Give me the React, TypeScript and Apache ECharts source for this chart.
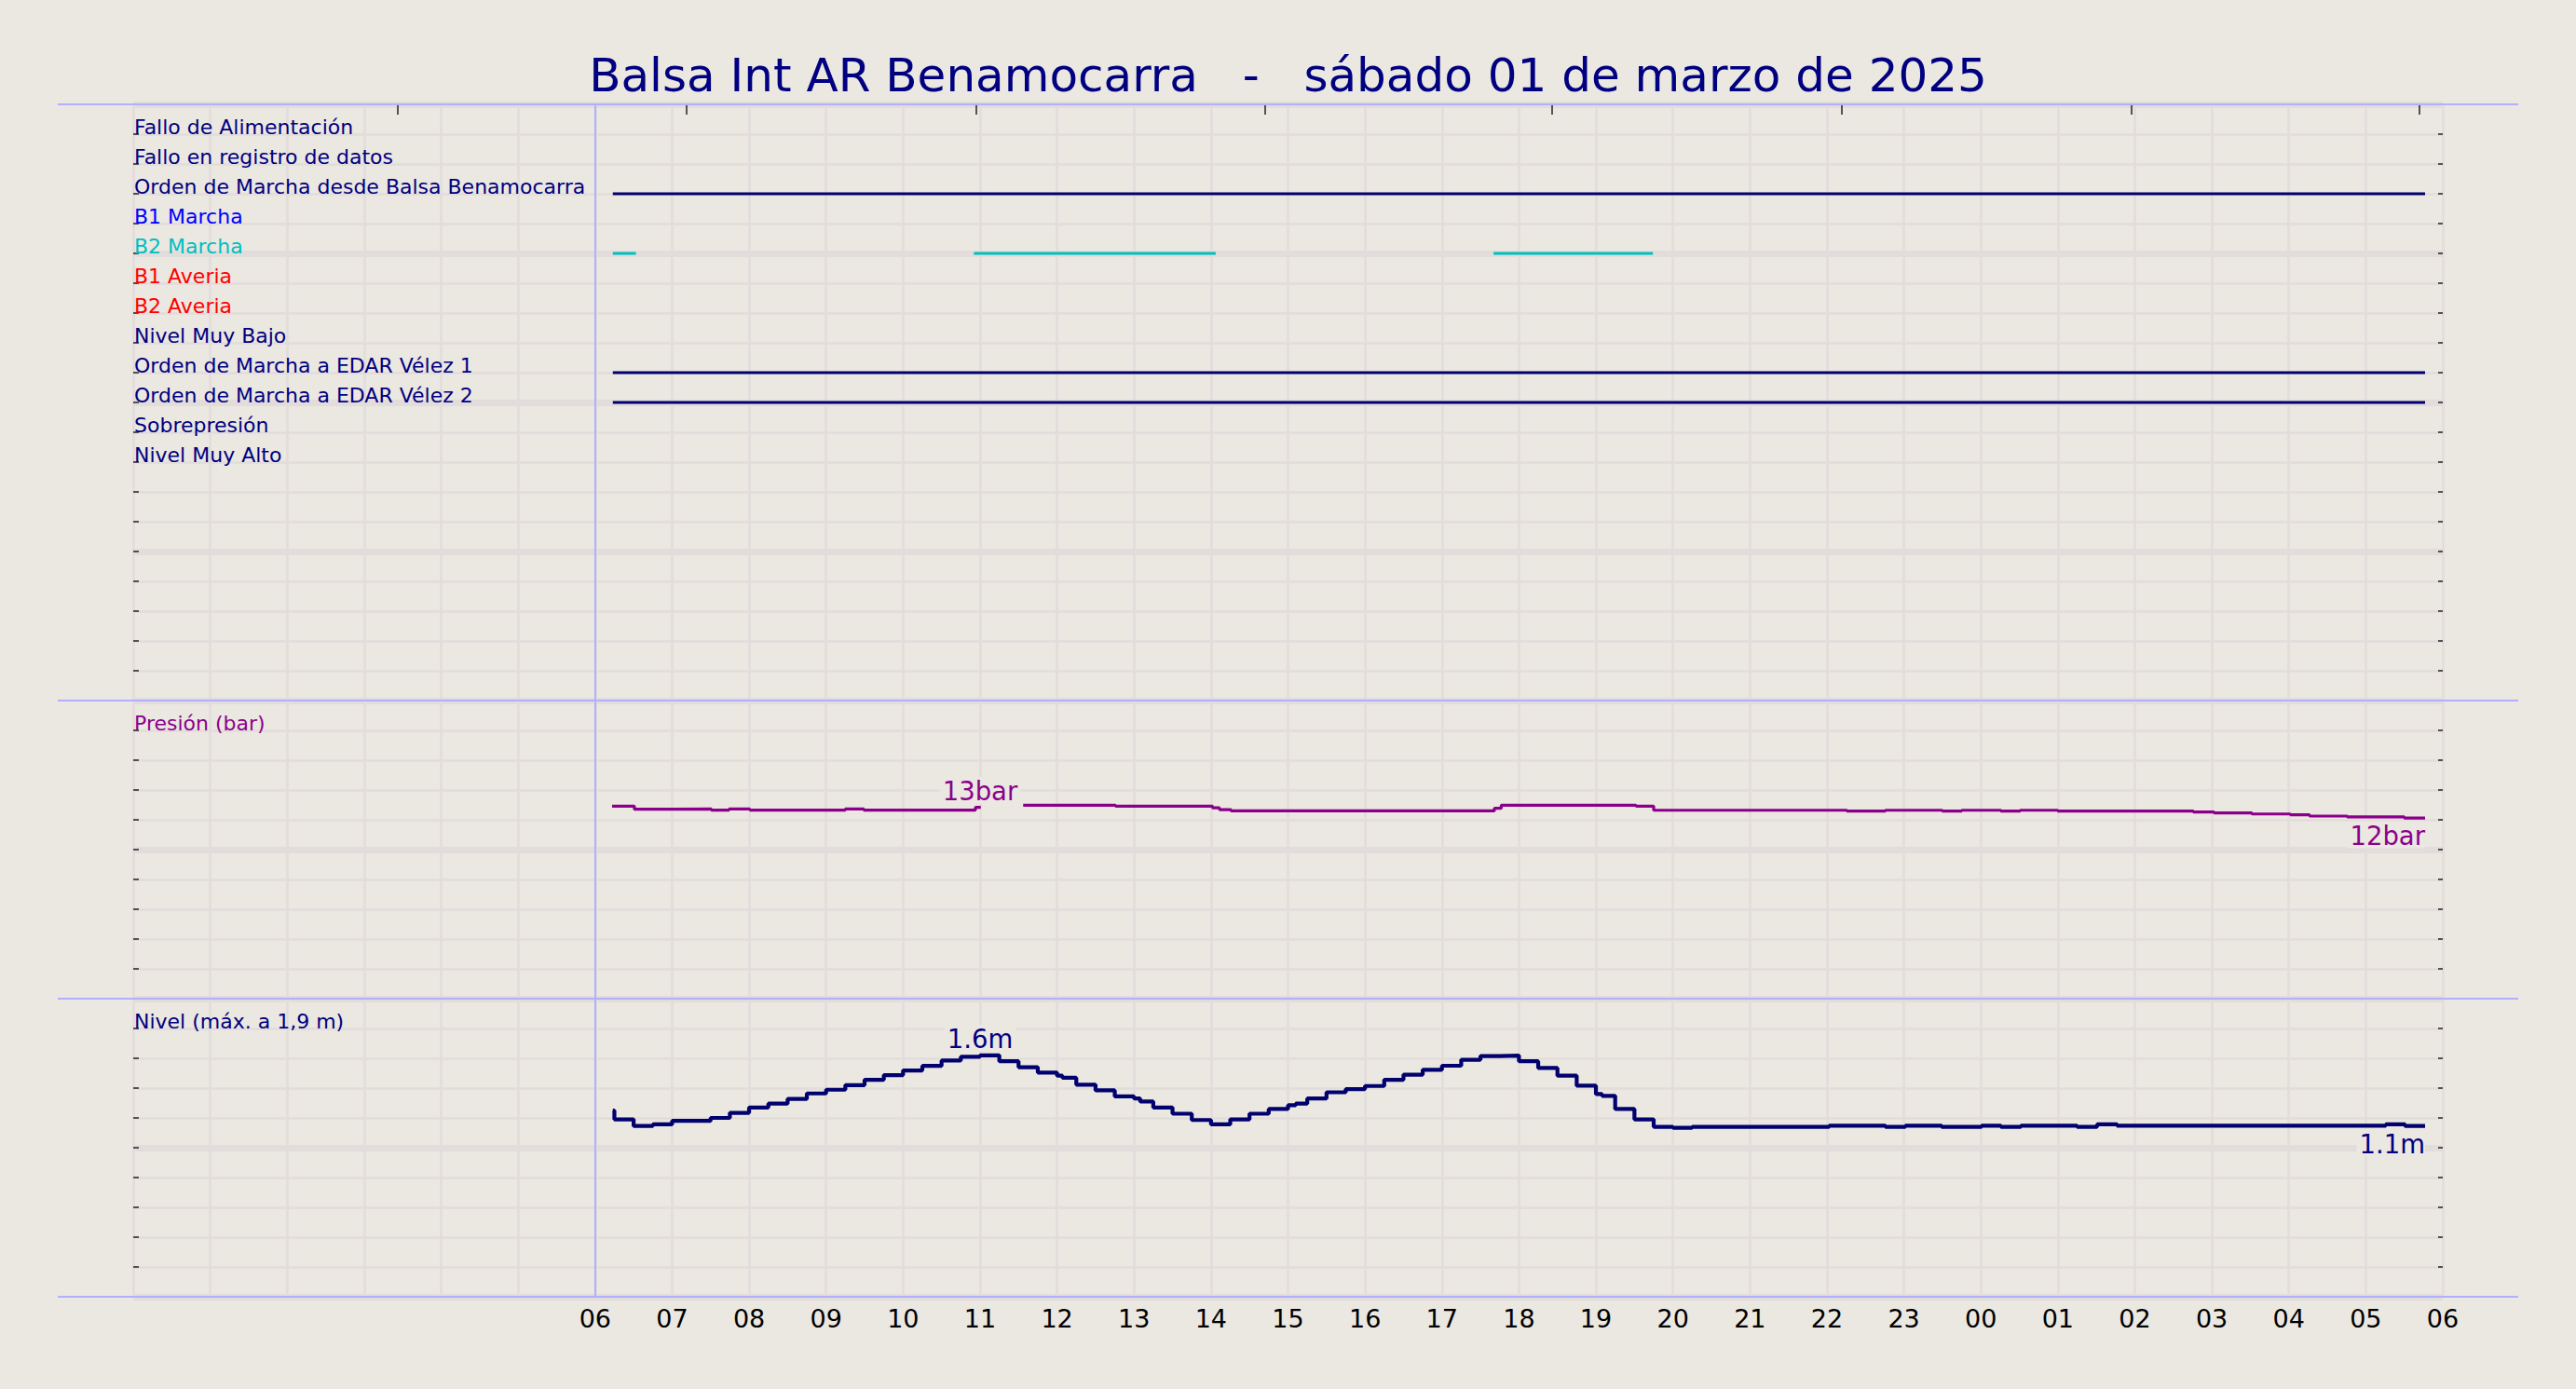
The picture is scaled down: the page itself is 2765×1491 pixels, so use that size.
import { useEffect, useRef } from 'react';
import * as echarts from 'echarts';

const TITLE = 'Balsa Int AR Benamocarra   -   sábado 01 de marzo de 2025';

// señales digitales, fila 1 arriba
const signalNames = [
  'Fallo de Alimentación',
  'Fallo en registro de datos',
  'Orden de Marcha desde Balsa Benamocarra',
  'B1 Marcha',
  'B2 Marcha',
  'B1 Averia',
  'B2 Averia',
  'Nivel Muy Bajo',
  'Orden de Marcha a EDAR Vélez 1',
  'Orden de Marcha a EDAR Vélez 2',
  'Sobrepresión',
  'Nivel Muy Alto',
];
const signalColors = [
  '#000080', '#000080', '#000080', '#0000ff', '#00bfbf', '#ff0000',
  '#ff0000', '#000080', '#000080', '#000080', '#000080', '#000080',
];

// tramos activos [hora inicio, hora fin], horas desde las 00:00
const ordenBalsaOn = [[6.23, 29.77]];
const b2MarchaOn = [[6.23, 6.53], [10.92, 14.06], [17.67, 19.74]];
const edar1On = [[6.23, 29.77]];
const edar2On = [[6.23, 29.77]];

// presión [hora, bar] (cambios de valor, null = sin dato)
const pressure: [number, number | null][] = [
  [6.22, 12.92], [6.51, 12.71], [7.01, 12.73], [7.51, 12.65], [7.74, 12.73],
  [8.01, 12.65], [9.25, 12.73], [9.49, 12.65], [10.94, 12.83], [11.01, 12.83],
  [11.01, null],
  [11.56, 12.98], [12.76, 12.92], [14.02, 12.8], [14.11, 12.68], [14.26, 12.6],
  [17.63, 12.6], [17.68, 12.77], [17.77, 12.98], [19.52, 12.92], [19.75, 12.64],
  [22.26, 12.58], [22.76, 12.64], [23.5, 12.58], [23.75, 12.64], [24.26, 12.58],
  [24.51, 12.64], [25.0, 12.58], [26.76, 12.52], [27.03, 12.46], [27.52, 12.39],
  [28.02, 12.33], [28.27, 12.25], [28.76, 12.19], [29.5, 12.12], [29.77, 12.12],
];

// nivel [hora, m]
const level: [number, number][] = [
  [6.23, 1.25], [6.25, 1.19], [6.5, 1.146], [6.75, 1.157], [7.0, 1.18],
  [7.5, 1.2], [7.75, 1.234], [8.0, 1.27], [8.25, 1.296], [8.5, 1.327],
  [8.75, 1.364], [9.0, 1.389], [9.25, 1.42], [9.5, 1.456], [9.75, 1.487],
  [10.0, 1.518], [10.25, 1.549], [10.5, 1.585], [10.75, 1.61], [11.0, 1.62],
  [11.25, 1.58], [11.5, 1.54], [11.75, 1.504], [12.0, 1.483], [12.07, 1.469],
  [12.25, 1.423], [12.5, 1.385], [12.75, 1.344], [13.0, 1.33], [13.08, 1.31],
  [13.25, 1.27], [13.5, 1.228], [13.75, 1.186], [14.0, 1.157], [14.25, 1.19],
  [14.5, 1.228], [14.75, 1.26], [15.0, 1.285], [15.1, 1.296], [15.25, 1.33],
  [15.5, 1.372], [15.75, 1.393], [16.0, 1.414], [16.25, 1.456], [16.5, 1.49],
  [16.75, 1.523], [17.0, 1.55], [17.25, 1.59], [17.5, 1.615], [17.75, 1.618],
  [18.0, 1.58], [18.25, 1.535], [18.5, 1.483], [18.75, 1.416], [19.0, 1.36],
  [19.08, 1.348], [19.25, 1.26], [19.5, 1.19], [19.75, 1.14], [20.0, 1.134],
  [20.25, 1.14], [22.03, 1.148], [22.76, 1.14], [23.02, 1.148], [23.49, 1.14],
  [24.01, 1.148], [24.26, 1.14], [24.52, 1.148], [25.25, 1.14], [25.51, 1.157],
  [25.77, 1.148], [29.26, 1.157], [29.51, 1.146], [29.77, 1.146],
];

const xLabels = [
  '06', '07', '08', '09', '10', '11', '12', '13', '14', '15', '16', '17', '18',
  '19', '20', '21', '22', '23', '00', '01', '02', '03', '04', '05', '06',
];
const topTickHours = [3.435, 7.19, 10.945, 14.7, 18.43, 22.19, 25.95, 29.7];

const BG = '#ebe7e1';
const GRID = '#e2dcdb';
const FRAME = '#b0b0ff';
const NAVY = '#000080';
const LINE_NAVY = '#00006e';
const PURPLE = '#8b008b';
const FONT = 'DejaVu Sans';

const W = 2765;
const H = 1491;
const LEFT = 143;
const PW = 2479;
const TOP = 112;
const ROW = 32;

function onOffData(spans: number[][], row: number) {
  const out: (number | null)[][] = [];
  spans.forEach(([s, e]) => {
    out.push([s, row], [e, row], [e, null]);
  });
  return out;
}

function valueAt(data: [number, number | null][], t: number) {
  let v: number | null = null;
  data.forEach(([h, y]) => {
    if (h <= t && y != null) v = y;
  });
  return v as unknown as number;
}

export default function App() {
  const ref = useRef<HTMLDivElement>(null);

  useEffect(() => {
    if (!ref.current) return;
    const chart = echarts.init(ref.current, undefined, { renderer: 'svg' });

    let maxIdx = 0;
    level.forEach((p, i) => { if (p[1] > level[maxIdx][1]) maxIdx = i; });
    const [tMax, lMax] = level[maxIdx];
    const pAtMax = valueAt(pressure, tMax);
    const lastP = pressure[pressure.length - 1] as [number, number];
    const lastL = level[level.length - 1];

    const grids = [
      { left: LEFT, width: PW, top: TOP, height: 20 * ROW },
      { left: LEFT, width: PW, top: TOP + 20 * ROW, height: 10 * ROW },
      { left: LEFT, width: PW, top: TOP + 30 * ROW, height: 10 * ROW },
    ];

    const noLine = { show: false, onZero: false };

    const xAxes: any[] = [0, 1, 2].map(i => ({
      type: 'value', gridIndex: i, min: 0, max: 30, interval: 1,
      axisLine: noLine, axisTick: { show: false },
      axisLabel: i === 2 ? {
        show: true, color: '#000', fontSize: 27, fontFamily: FONT,
        lineHeight: 27, margin: 10,
        formatter: (v: number) => (v >= 6 ? xLabels[v - 6] : ''),
      } : { show: false },
      splitLine: { show: true, lineStyle: { color: GRID, width: 2.5 } },
    }));
    xAxes.push({
      type: 'value', gridIndex: 0, position: 'top', min: 0, max: 30,
      axisLine: noLine, axisLabel: { show: false }, splitLine: { show: false },
      axisTick: { show: true, inside: true, length: 11, customValues: topTickHours,
        lineStyle: { color: '#222', width: 1.5 } },
    });

    const panels = [
      { min: 0, max: 20, step: 1, major: 5, inverse: true,
        label: (v: number) => signalNames[Math.round(v) - 1] ?? '',
        color: (v: any) => signalColors[Math.round(Number(v)) - 1] ?? NAVY },
      { min: 0, max: 20, step: 2, major: 10, inverse: false,
        label: (v: number) => (Math.abs(v - 18) < 1e-6 ? 'Presión (bar)' : ''),
        color: () => PURPLE },
      { min: 0, max: 2, step: 0.2, major: 1, inverse: false,
        label: (v: number) => (Math.abs(v - 1.8) < 1e-6 ? 'Nivel (máx. a 1,9 m)' : ''),
        color: () => NAVY },
    ];
    const yAxes: any[] = [];
    panels.forEach((p, i) => {
      const base = { type: 'value', gridIndex: i, min: p.min, max: p.max, inverse: p.inverse };
      yAxes.push({
        ...base, position: 'left', interval: p.step,
        axisLine: noLine,
        axisTick: { show: true, inside: true, length: 6, lineStyle: { color: '#222', width: 1.5 } },
        axisLabel: {
          show: true, inside: true, margin: 1, fontSize: 22, fontFamily: FONT,
          verticalAlign: 'bottom', lineHeight: 15,
          formatter: p.label, color: p.color,
          showMinLabel: true, showMaxLabel: true,
        },
        splitLine: { show: true, lineStyle: { color: GRID, width: 2.5 } },
      });
      yAxes.push({
        ...base, position: 'right', interval: p.step,
        axisLine: noLine, axisLabel: { show: false }, splitLine: { show: false },
        axisTick: { show: true, inside: true, length: 5, lineStyle: { color: '#222', width: 1.5 } },
      });
      yAxes.push({
        ...base, position: 'left', interval: p.major,
        axisLine: noLine, axisLabel: { show: false }, axisTick: { show: false },
        splitLine: { show: true, lineStyle: { color: GRID, width: 7 } },
      });
    });

    const vLine = {
      silent: true, symbol: ['none', 'none'], label: { show: false },
      lineStyle: { color: FRAME, width: 2, type: 'solid' },
      data: [{ xAxis: 6 }],
    };

    const labelBase = {
      show: true, fontSize: 27.5, fontFamily: FONT, lineHeight: 27,
      backgroundColor: BG, padding: [2, 3, 0, 3],
    };

    const binary = [
      { row: 3, spans: ordenBalsaOn },
      { row: 5, spans: b2MarchaOn },
      { row: 9, spans: edar1On },
      { row: 10, spans: edar2On },
    ];

    const series: any[] = binary.map((b, i) => {
      const c = b.row === 5 ? signalColors[4] : LINE_NAVY;
      return {
        type: 'line', xAxisIndex: 0, yAxisIndex: 0,
        data: onOffData(b.spans, b.row), showSymbol: false, connectNulls: false,
        lineStyle: { color: c, width: 3 },
        itemStyle: { color: c },
        markLine: i === 0 ? vLine : undefined,
      };
    });

    series.push({
      type: 'line', xAxisIndex: 1, yAxisIndex: 3, step: 'end',
      data: pressure, showSymbol: false, connectNulls: false,
      lineStyle: { color: PURPLE, width: 3.2 }, itemStyle: { color: PURPLE },
      markLine: vLine,
      markPoint: {
        symbol: 'circle', symbolSize: 0, silent: true,
        label: { ...labelBase, color: PURPLE },
        data: [
          { coord: [tMax, pAtMax], label: { position: 'top', distance: 4,
            formatter: () => `${Math.round(pAtMax)}bar` } },
          { coord: lastP, label: { position: 'bottom', distance: 3.5, align: 'right',
            padding: [2, 0, 0, 3], formatter: () => `${Math.round(lastP[1])}bar` } },
        ],
      },
    });

    series.push({
      type: 'line', xAxisIndex: 2, yAxisIndex: 6, step: 'end',
      data: level, showSymbol: false,
      lineStyle: { color: LINE_NAVY, width: 4.2 }, itemStyle: { color: LINE_NAVY },
      markLine: vLine,
      markPoint: {
        symbol: 'circle', symbolSize: 0, silent: true,
        label: { ...labelBase, color: NAVY },
        data: [
          { coord: [tMax, lMax], label: { position: 'top', distance: 4,
            formatter: () => `${lMax.toFixed(1)}m` } },
          { coord: lastL, label: { position: 'bottom', distance: 3.5, align: 'right',
            padding: [2, 0, 0, 3], formatter: () => `${lastL[1].toFixed(1)}m` } },
        ],
      },
    });

    const frameYs = [TOP, TOP + 20 * ROW, TOP + 30 * ROW, TOP + 40 * ROW];

    chart.setOption({
      animation: false,
      backgroundColor: BG,
      textStyle: { fontFamily: FONT },
      title: {
        text: TITLE, left: 'center', top: 56, padding: 0,
        textStyle: { color: NAVY, fontSize: 50, fontWeight: 'normal', fontFamily: FONT, lineHeight: 50 },
      },
      grid: grids,
      xAxis: xAxes,
      yAxis: yAxes,
      series,
      graphic: frameYs.map(y => ({
        type: 'line', silent: true, z: 10,
        shape: { x1: 62, y1: y, x2: 2703, y2: y },
        style: { stroke: FRAME, lineWidth: 2 },
      })),
    });

    return () => chart.dispose();
  }, []);

  return (
    <div
      ref={ref}
      style={{ position: 'absolute', left: 0, top: 0, width: W, height: H }}
    />
  );
}
